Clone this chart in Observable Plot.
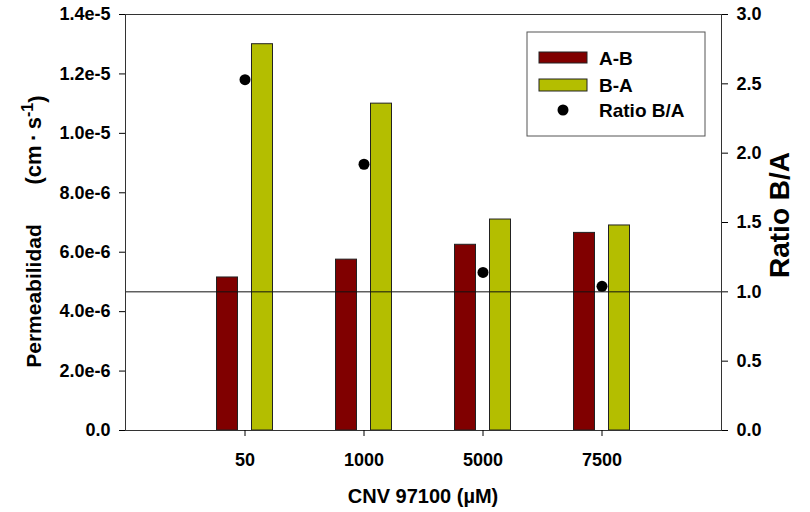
<!DOCTYPE html>
<html>
<head>
<meta charset="utf-8">
<script src="https://cdn.jsdelivr.net/npm/d3@7"></script>
<script src="https://cdn.jsdelivr.net/npm/@observablehq/plot@0.6"></script>
<style>
  html, body { margin: 0; padding: 0; background: #fff; }
  #chart { width: 810px; height: 512px; }
</style>
</head>
<body>
<div id="chart"></div>
<script>
// Concentrations of CNV 97100 (µM)
const categories = ["50", "1000", "5000", "7500"];
// Apparent permeability (cm·s⁻¹), apical→basolateral and basolateral→apical
const permAB = [5.15e-6, 5.75e-6, 6.25e-6, 6.65e-6];
const permBA = [1.30e-5, 1.10e-5, 7.10e-6, 6.90e-6];
// Efflux ratio B/A
const ratioBA = [2.53, 1.92, 1.14, 1.04];

// Axis ticks
const permTicks = [0, 2e-6, 4e-6, 6e-6, 8e-6, 1e-5, 1.2e-5, 1.4e-5];
const ratioTicks = [0, 0.5, 1.0, 1.5, 2.0, 2.5, 3.0];
const permMax = 1.4e-5;
const ratioMax = 3.0;

// The ratio axis on the right shares the vertical scale with permeability
const ratioToPerm = d3.scaleLinear([0, ratioMax], [0, permMax]);

const rows = categories.map((c, i) => ({
  conc: c,
  ab: permAB[i],
  ba: permBA[i],
  ratio: ratioToPerm(ratioBA[i])
}));

const colorAB = "#800000";
const colorBA = "#b4be00";

const fmtPerm = v => v === 0 ? "0.0" : v.toExponential(1);

const svg = Plot.plot({
  width: 810,
  height: 512,
  marginLeft: 125,
  marginRight: 89,
  marginTop: 14,
  marginBottom: 82,
  style: {
    fontFamily: "Arial, 'Liberation Sans', sans-serif",
    fontSize: "18px",
    fontWeight: "bold",
    color: "#000",
    background: "#fff"
  },
  x: { type: "band", domain: categories, paddingInner: 0.8238, paddingOuter: 0.9119 },
  y: { domain: [0, permMax] },
  marks: [
    Plot.barY(rows, { x: "conc", y: "ab", fill: colorAB, stroke: "#222", strokeWidth: 1, dx: -17.5 }),
    Plot.barY(rows, { x: "conc", y: "ba", fill: colorBA, stroke: "#222", strokeWidth: 1, dx: 17.5 }),
    Plot.ruleY([ratioToPerm(1)], { stroke: "#111", strokeWidth: 1 }),
    Plot.dot(rows, { x: "conc", y: "ratio", r: 5.5, fill: "#000", stroke: "none" }),
    Plot.frame({ stroke: "#333", strokeWidth: 1 }),
    Plot.axisY(permTicks, { anchor: "left", tickSize: 6, tickPadding: 9, tickFormat: fmtPerm, label: null }),
    Plot.axisY(ratioTicks.map(ratioToPerm), {
      anchor: "right", tickSize: 6, tickPadding: 9,
      tickFormat: v => ratioToPerm.invert(v).toFixed(1), label: null
    }),
    Plot.axisX(categories, { anchor: "bottom", tickSize: 6, tickPadding: 17, label: null })
  ]
});

const s = d3.select(svg);

// Left axis title
s.append("text")
  .attr("transform", "translate(41,296) rotate(-90)")
  .attr("text-anchor", "middle")
  .style("font-size", "21px")
  .text("Permeabilidad");
const unit = s.append("text")
  .attr("transform", "translate(41,140) rotate(-90)")
  .attr("text-anchor", "middle")
  .style("font-size", "22px");
unit.append("tspan").text("(cm\u2009·\u2009s");
unit.append("tspan").attr("dy", "-0.5em").style("font-size", "16px").text("-1");
unit.append("tspan").attr("dy", "0.5em").text(")");

// Right axis title
s.append("text")
  .attr("transform", "translate(789,215) rotate(-90)")
  .attr("text-anchor", "middle")
  .style("font-size", "28px")
  .text("Ratio B/A");

// Bottom axis title
s.append("text")
  .attr("x", 423)
  .attr("y", 503)
  .attr("text-anchor", "middle")
  .style("font-size", "20px")
  .text("CNV 97100 (µM)");

// Legend
const lg = s.append("g").style("font-size", "19px").attr("text-anchor", "start");
lg.append("rect").attr("x", 527).attr("y", 32).attr("width", 178).attr("height", 104)
  .attr("fill", "#fff").attr("stroke", "#555");
lg.append("rect").attr("x", 539).attr("y", 52).attr("width", 48).attr("height", 11)
  .attr("fill", colorAB).attr("stroke", "#222");
lg.append("text").attr("x", 599).attr("y", 58).attr("dy", "0.35em").text("A-B");
lg.append("rect").attr("x", 539).attr("y", 79).attr("width", 48).attr("height", 12)
  .attr("fill", colorBA).attr("stroke", "#222");
lg.append("text").attr("x", 599).attr("y", 85).attr("dy", "0.35em").text("B-A");
lg.append("circle").attr("cx", 563).attr("cy", 110).attr("r", 5.5).attr("fill", "#000");
lg.append("text").attr("x", 599).attr("y", 110).attr("dy", "0.35em").text("Ratio B/A");

document.getElementById("chart").appendChild(svg);
</script>
</body>
</html>
